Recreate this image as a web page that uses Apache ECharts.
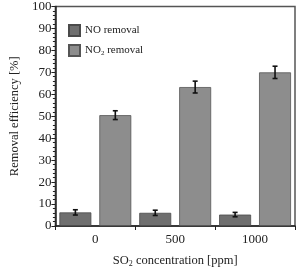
<!DOCTYPE html>
<html lang="en">
<head>
    <meta charset="UTF-8">
    <title>SO2 removal</title>
    <script src="https://cdn.jsdelivr.net/npm/echarts@6/dist/echarts.min.js"></script>
</head>
<body style="margin:0">
<div id="showbox" style="width:304px; height:273px;"></div>
<script type="text/javascript">
    var categories = ['0', '500', '1000'];
    var noValues = [6.2, 6.0, 5.2];
    var noErr = [1.2, 1.2, 1.0];
    var no2Values = [50.5, 63.3, 70.0];
    var no2Err = [2.0, 2.7, 2.8];

    var font = '"Liberation Serif", "Times New Roman", serif';

    function errData(vals, errs) {
        return vals.map(function (v, i) { return [i, v - errs[i], v + errs[i]]; });
    }

    function errRender(shift) {
        return function (params, api) {
            var band = api.size([1, 0])[0];
            var lo = api.coord([api.value(0), api.value(1)]);
            var hi = api.coord([api.value(0), api.value(2)]);
            var x = lo[0] + shift * band;
            var w = 2.5;
            var st = { stroke: '#111', lineWidth: 1.6 };
            return {
                type: 'group',
                children: [
                    { type: 'line', shape: { x1: x, y1: lo[1], x2: x, y2: hi[1] }, style: st },
                    { type: 'line', shape: { x1: x - w, y1: lo[1], x2: x + w, y2: lo[1] }, style: st },
                    { type: 'line', shape: { x1: x - w, y1: hi[1], x2: x + w, y2: hi[1] }, style: st }
                ]
            };
        };
    }

    var chart = echarts.init(document.getElementById('showbox'));
    chart.setOption({
        animation: false,
        textStyle: { fontFamily: font },
        grid: {
            left: 49, right: 9, top: 5, bottom: 36,
            show: true, borderColor: '#555', borderWidth: 1.5, backgroundColor: '#fff'
        },
        legend: {
            orient: 'vertical',
            left: 63, top: 19,
            itemWidth: 11, itemHeight: 11, itemGap: 7,
            icon: 'rect',
            data: ['NO removal', 'NO2 removal'],
            formatter: function (name) {
                return name === 'NO2 removal' ? '{a|NO}{s|2}{a| removal}' : '{a|' + name + '}';
            },
            textStyle: {
                fontFamily: font, color: '#222',
                rich: {
                    a: { fontSize: 11, fontFamily: font, color: '#222' },
                    s: { fontSize: 7, fontFamily: font, color: '#222', padding: [6, 0, 0, 0] }
                }
            }
        },
        xAxis: {
            type: 'category',
            data: categories,
            name: '{a|SO}{s|2}{a| concentration [ppm]}',
            nameLocation: 'middle',
            nameGap: 27,
            nameTextStyle: {
                rich: {
                    a: { fontSize: 12.5, fontFamily: font, color: '#222' },
                    s: { fontSize: 8, fontFamily: font, color: '#222', padding: [7, 0, 0, 0] }
                }
            },
            axisLine: { lineStyle: { color: '#222', width: 1.5 } },
            axisTick: { show: true, length: 4, lineStyle: { color: '#222' } },
            axisLabel: { color: '#222', fontSize: 13, fontFamily: font, margin: 7 }
        },
        yAxis: {
            type: 'value',
            min: 0, max: 100, interval: 10,
            name: 'Removal efficiency [%]',
            nameLocation: 'middle',
            nameGap: 33,
            nameTextStyle: { fontSize: 12.5, fontFamily: font, color: '#222' },
            axisLine: { show: true, lineStyle: { color: '#222', width: 1.5 } },
            axisTick: { show: true, length: 4, lineStyle: { color: '#222' } },
            minorTick: { show: true, splitNumber: 5, length: 2.5, lineStyle: { color: '#222' } },
            splitLine: { show: false },
            axisLabel: { color: '#222', fontSize: 13, fontFamily: font, margin: 4 }
        },
        series: [
            {
                name: 'NO removal', type: 'bar', data: noValues,
                barWidth: '40%', barGap: '25%',
                itemStyle: { color: '#6f6f6f', borderColor: '#4a4a4a', borderWidth: 0.8 }
            },
            {
                name: 'NO2 removal', type: 'bar', data: no2Values,
                barWidth: '40%', barGap: '25%',
                itemStyle: { color: '#8d8d8d', borderColor: '#555', borderWidth: 0.8 }
            },
            {
                type: 'custom', renderItem: errRender(-0.25),
                data: errData(noValues, noErr), z: 10
            },
            {
                type: 'custom', renderItem: errRender(0.25),
                data: errData(no2Values, no2Err), z: 10
            }
        ]
    });
</script>
</body>
</html>
